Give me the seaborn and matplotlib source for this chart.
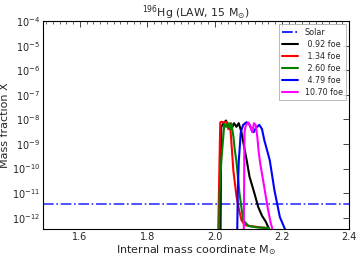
import numpy as np
import pandas as pd
import matplotlib
matplotlib.use("Agg")
import matplotlib.pyplot as plt
import seaborn as sns
from matplotlib.lines import Line2D
from matplotlib.ticker import MultipleLocator, NullLocator, LogLocator

# ---- data ----
solar_value = 3.5e-12
labels = [" 0.92 foe", " 1.34 foe", " 2.60 foe", " 4.79 foe", "10.70 foe"]
colors = ["black", "red", "green", "blue", "magenta"]

x_092 = [2.017, 2.020, 2.027, 2.034, 2.042, 2.050, 2.058, 2.065, 2.072, 2.080, 2.088, 2.096, 2.104, 2.116, 2.130, 2.141, 2.152, 2.162, 2.165]
y_092 = [1e-14, 5e-9, 7e-9, 9e-9, 5e-9, 4e-9, 7e-9, 5e-9, 7e-9, 3e-9, 7.6e-10, 2e-10, 4.6e-11, 1.3e-11, 2.7e-12, 1.2e-12, 7e-13, 3.5e-13, 1e-14]

x_134 = [2.009, 2.013, 2.017, 2.021, 2.029, 2.035, 2.041, 2.046, 2.050, 2.056, 2.065, 2.073, 2.080, 2.090, 2.111, 2.141, 2.162, 2.164]
y_134 = [1e-14, 1e-11, 7.5e-9, 8e-9, 7.5e-9, 8e-9, 4e-9, 7e-9, 1.2e-9, 8e-11, 8e-12, 2e-12, 8e-13, 5e-13, 4.5e-13, 4e-13, 3.8e-13, 1e-14]

x_260 = [2.013, 2.015, 2.020, 2.026, 2.029, 2.034, 2.040, 2.046, 2.050, 2.056, 2.060, 2.065, 2.074, 2.085, 2.101, 2.131, 2.162, 2.164]
y_260 = [1e-14, 1e-11, 2e-10, 2e-9, 6.5e-9, 5e-9, 7e-9, 4e-9, 7e-9, 2e-9, 6e-10, 2e-10, 1e-11, 8e-13, 4.6e-13, 4e-13, 3.8e-13, 1e-14]

x_479 = [2.066, 2.069, 2.072, 2.078, 2.085, 2.095, 2.104, 2.111, 2.116, 2.123, 2.133, 2.141, 2.148, 2.164, 2.178, 2.194, 2.209, 2.211]
y_479 = [1e-14, 1e-11, 2e-10, 3e-9, 6e-9, 7.7e-9, 6e-9, 3.5e-9, 3e-9, 4.5e-9, 6e-9, 4e-9, 1.4e-9, 2.2e-10, 1.3e-11, 1.07e-12, 3.5e-13, 1e-14]

x_1070 = [2.086, 2.089, 2.093, 2.101, 2.107, 2.112, 2.117, 2.122, 2.127, 2.131, 2.136, 2.147, 2.158, 2.167, 2.172, 2.174]
y_1070 = [1e-14, 3e-9, 6e-9, 7.5e-9, 5e-9, 3e-9, 7e-9, 6e-9, 2e-9, 5e-10, 1.5e-10, 2e-11, 2.5e-12, 6e-13, 3.5e-13, 1e-14]

xs = [x_092, x_134, x_260, x_479, x_1070]
ys = [y_092, y_134, y_260, y_479, y_1070]

frames = []
for lab, x, y in zip(labels, xs, ys):
    frames.append(pd.DataFrame({"x": x, "y": y, "run": lab}))
df = pd.concat(frames, ignore_index=True)

# ---- plot ----
sns.set_style("white")
plt.rcParams["font.family"] = ["DejaVu Sans"]
plt.rcParams["mathtext.fontset"] = "dejavusans"

fig = plt.figure(figsize=(3.6, 2.7), dpi=100)
ax = fig.add_axes([0.119, 0.152, 0.851, 0.770])

ax.axhline(solar_value, color="blue", linestyle="-.", linewidth=1.2, alpha=0.8)
sns.lineplot(data=df, x="x", y="y", hue="run", palette=dict(zip(labels, colors)),
             hue_order=labels, estimator=None, sort=False,
             linewidth=1.5, legend=False, ax=ax)

ax.set_yscale("log")
ax.set_xlim(1.49, 2.4)
ax.set_ylim(3.5e-13, 1e-4)
ax.xaxis.set_major_locator(MultipleLocator(0.2))
ax.xaxis.set_minor_locator(MultipleLocator(0.02))
ax.yaxis.set_major_locator(LogLocator(base=10, numticks=20))
ax.yaxis.set_minor_locator(NullLocator())
ax.tick_params(axis="both", which="both", direction="in", top=True, right=True, labelsize=7, pad=2)
ax.tick_params(which="major", length=4, width=0.6)
ax.tick_params(which="minor", length=2, width=0.5)
for s in ax.spines.values():
    s.set_linewidth(0.8)
    s.set_color("black")

ax.set_title(r"$^{196}$Hg (LAW, 15 M$_{\odot}$)", fontsize=7.8, pad=3)
ax.set_xlabel(r"Internal mass coordinate M$_{\odot}$", fontsize=8, labelpad=1)
ax.set_ylabel("Mass fraction X", fontsize=8, labelpad=1)

handles = [Line2D([0], [0], color="blue", linestyle="-.", linewidth=1.2)]
handles += [Line2D([0], [0], color=c, linewidth=1.5) for c in colors]
leg = ax.legend(handles, ["Solar"] + labels, loc="upper right", fontsize=5.8,
                frameon=True, fancybox=False, borderpad=0.4, handlelength=2.0,
                labelspacing=0.38, borderaxespad=0.4)
leg.get_frame().set_edgecolor("0.6")
leg.get_frame().set_linewidth(0.6)

fig.savefig("out.png", dpi=100)
